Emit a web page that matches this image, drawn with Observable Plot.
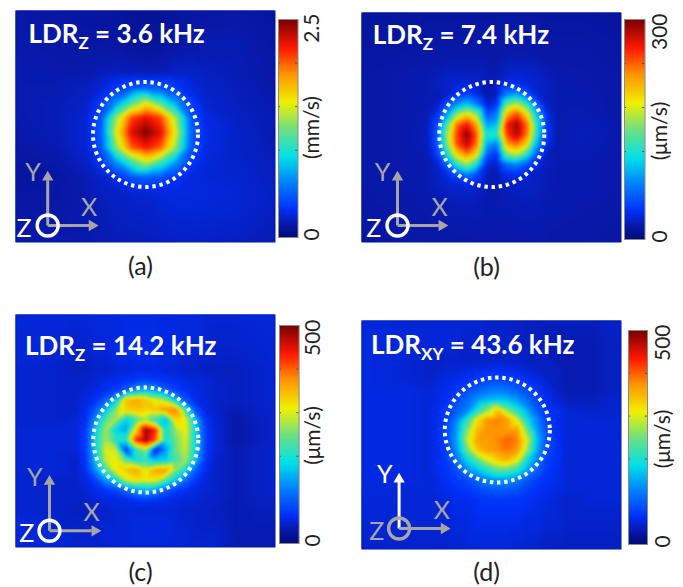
<!DOCTYPE html>
<html>
<head>
<meta charset="utf-8">
<script src="https://cdn.jsdelivr.net/npm/d3@7"></script>
<script src="https://cdn.jsdelivr.net/npm/@observablehq/plot@0.6"></script>
<style>
  html,body{margin:0;padding:0;background:#fff}
  #fig{position:relative;width:683px;height:587px;overflow:hidden;font-family:Lato,sans-serif}
  #fig svg{position:absolute;background:transparent;overflow:visible}
</style>
</head>
<body>
<div id="fig"></div>
<script>
// Colour map (fractions of full scale)
const jetStops = [0, 0.06, 0.13, 0.25, 0.37, 0.5, 0.62, 0.75, 0.87, 1];
const jetColors = ["#000a78","#0818a8","#0030f8","#0080ff","#00e0e8","#70e080","#f0f000","#ff9400","#ff1800","#780000"];

// Panel A: velocity magnitude, mm/s. Node offsets in image units from the spot centre
const aXs = [-140,-90,-60,-45,-30,-15,0,15,30,45,60,90,140];
const aYs = [-130,-90,-60,-45,-30,-15,0,15,30,45,60,80,120];
const aVals = [
 [.15,.13,.12,.12,.11,.10,.09,.10,.11,.12,.13,.14,.12],
 [.16,.15,.14,.14,.13,.11,.10,.11,.13,.15,.17,.17,.13],
 [.17,.16,.16,.18,.20,.19,.18,.19,.21,.22,.20,.18,.14],
 [.17,.17,.20,.24,.34,.44,.50,.45,.36,.26,.22,.19,.14],
 [.17,.18,.22,.36,.68,1.10,1.50,1.12,.70,.38,.24,.20,.15],
 [.16,.18,.24,.46,1.32,2.05,2.25,2.05,1.35,.48,.27,.21,.16],
 [.15,.18,.24,.50,1.50,2.25,2.48,2.25,1.50,.52,.29,.22,.16],
 [.14,.17,.24,.47,1.30,2.00,2.20,2.00,1.32,.48,.28,.22,.17],
 [.13,.15,.21,.34,.68,1.08,1.45,1.10,.70,.36,.26,.23,.18],
 [.12,.13,.18,.22,.30,.44,.50,.45,.34,.27,.25,.24,.19],
 [.13,.14,.17,.20,.22,.24,.25,.26,.27,.27,.26,.25,.20],
 [.14,.15,.17,.18,.20,.21,.22,.24,.25,.25,.25,.24,.19],
 [.15,.16,.16,.17,.18,.18,.18,.19,.20,.21,.20,.19,.17]
];

// Panel B: µm/s
const bXs = [-140,-90,-65,-55,-45,-35,-25,-15,-5,5,15,25,35,45,55,65,90,140];
const bYs = [-130,-80,-60,-50,-40,-30,-20,-10,0,10,20,30,40,50,60,75,120];
const bVals = [
 [14,14,15,15,15,15,15,15,15,15,15,15,15,15,15,15,15,15],
 [16,17,18,18,18,18,18,18,18,18,19,19,19,19,18,18,18,16],
 [17,19,20,22,24,24,24,24,22,20,26,30,28,26,22,20,19,17],
 [17,19,20,24,28,30,30,28,20,24,36,36,32,28,24,20,19,17],
 [17,19,21,21,24,40,50,35,18,24,75,90,60,30,24,20,20,17],
 [17,19,20,24,55,85,105,75,26,40,150,175,135,62,25,20,20,17],
 [17,19,21,36,85,160,195,160,55,70,215,250,195,105,38,20,21,17],
 [17,19,22,48,135,235,265,215,85,100,262,290,240,125,42,20,22,18],
 [17,19,22,55,160,250,295,240,120,125,250,285,235,120,42,20,23,18],
 [17,19,22,52,150,245,280,232,90,70,215,235,195,90,36,20,22,18],
 [17,19,21,42,115,195,230,190,60,38,150,170,125,55,24,20,21,18],
 [17,19,20,27,62,125,160,115,35,24,65,75,55,35,24,20,20,18],
 [17,19,20,24,35,55,75,50,22,20,35,38,30,24,22,20,20,18],
 [17,19,20,24,28,30,32,28,20,20,24,26,26,24,22,20,20,18],
 [17,18,20,22,24,25,26,24,20,20,22,23,24,23,21,20,20,18],
 [16,18,19,20,20,21,21,21,20,20,20,21,21,21,20,20,19,17],
 [15,16,17,17,17,17,17,18,18,18,18,18,18,18,18,17,17,16]
];

// Panel C: µm/s
const cXs = [-140,-90,-70,-60,-50,-40,-30,-20,-10,0,10,20,30,40,50,60,70,90,140];
const cYs = [-130,-90,-70,-60,-50,-40,-30,-20,-10,0,10,20,30,40,50,60,70,90,120];
const cVals = [
 [55,50,50,55,55,55,55,55,55,55,55,55,55,55,55,50,50,50,50],
 [50,50,45,45,50,50,55,60,60,60,60,55,55,50,50,50,45,45,50],
 [50,45,40,40,45,45,50,50,55,55,55,50,50,45,45,40,40,40,50],
 [50,45,45,45,50,55,60,65,70,75,70,65,60,55,50,50,45,40,50],
 [50,45,45,50,55,65,75,100,140,160,140,100,75,65,55,50,45,40,50],
 [50,45,45,55,65,100,170,340,360,340,300,270,170,90,60,50,45,40,50],
 [50,45,45,60,100,165,260,330,340,330,340,370,380,220,90,55,45,35,50],
 [50,45,50,65,140,240,275,175,225,275,210,165,330,300,160,65,50,30,50],
 [50,50,50,75,175,275,180,150,325,485,425,190,275,310,180,70,50,30,50],
 [50,50,50,75,185,275,210,210,425,480,400,200,250,300,185,75,50,30,50],
 [50,50,50,75,180,300,290,75,210,275,50,140,250,290,180,70,50,35,50],
 [50,50,45,70,170,290,310,240,200,210,165,175,225,275,160,65,45,35,50],
 [50,50,45,65,140,225,310,340,360,310,360,370,260,190,100,60,45,35,50],
 [50,45,45,55,80,140,190,290,320,310,310,240,170,110,70,50,45,35,50],
 [50,45,45,50,60,70,80,110,140,160,140,100,75,65,55,50,45,35,50],
 [50,45,45,45,50,55,55,60,65,70,65,60,55,50,50,45,45,35,45],
 [50,45,40,40,45,45,50,50,50,50,50,50,50,45,45,45,40,35,40],
 [50,50,45,45,45,50,50,50,55,55,55,55,50,50,45,45,45,35,35],
 [50,50,50,50,50,50,50,50,50,50,50,50,50,50,50,50,45,35,35]
];

// Panel D: µm/s
const dXs = [-145,-95,-70,-60,-50,-40,-30,-20,-10,0,10,20,30,40,50,60,70,95,130];
const dYs = [-115,-85,-70,-60,-50,-40,-30,-20,-10,0,10,20,30,40,50,60,70,90,125];
const dVals = [
 [50,50,50,50,50,50,50,50,45,45,45,45,40,40,40,40,40,40,45],
 [55,50,50,50,50,50,45,45,45,45,45,40,40,40,35,35,35,35,45],
 [55,50,45,45,45,45,45,45,45,45,45,45,40,40,40,35,35,35,45],
 [55,50,45,45,50,50,55,55,60,60,60,55,50,45,40,40,35,35,45],
 [55,50,45,50,55,60,65,75,80,85,80,75,65,55,45,40,35,35,45],
 [55,55,50,55,60,70,85,100,115,120,115,100,85,70,55,40,35,35,45],
 [55,55,50,55,65,85,110,140,160,170,165,140,110,80,60,50,40,40,50],
 [55,55,50,60,75,100,125,200,260,340,260,200,150,95,70,60,50,45,50],
 [55,55,50,60,80,130,210,320,375,385,370,300,190,125,75,60,50,50,50],
 [55,55,50,60,85,145,260,350,375,375,370,365,250,140,80,60,50,50,50],
 [55,55,50,60,85,155,290,365,370,380,400,385,300,160,85,65,50,50,50],
 [55,55,50,60,80,145,250,340,365,375,390,370,270,150,80,65,50,50,50],
 [55,55,50,60,75,120,180,240,300,335,350,310,190,125,75,65,50,50,50],
 [55,55,50,60,70,90,135,165,200,240,240,210,150,100,70,60,50,50,50],
 [55,55,50,55,65,75,85,105,125,140,140,120,95,75,65,60,50,50,50],
 [55,50,50,55,60,65,70,80,90,95,95,90,75,65,60,55,50,50,50],
 [50,50,50,50,55,60,60,65,70,70,70,70,65,60,55,50,45,50,50],
 [50,50,50,50,50,55,55,60,60,60,60,60,55,55,50,50,45,45,45],
 [45,45,45,45,45,45,50,50,50,50,50,45,45,45,40,40,40,40,40]
];

// Titles (text, subscript, remainder), units, bar labels, captions
const titleMain = ["LDR","LDR","LDR","LDR"];
const titleSubs = ["Z","Z","Z","XY"];
const titleRest = [" = 3.6 kHz"," = 7.4 kHz"," = 14.2 kHz"," = 43.6 kHz"];
const barMax = [2.5,300,500,500];
const barMaxLabels = ["2.5","300","500","500"];
const barUnits = ["(mm/s)","(μm/s)","(μm/s)","(μm/s)"];
const barTicks = [[.5,1,1.5,2],[60,120,180,240],[100,200,300,400],[100,200,300,400]];
const captions = ["(a)","(b)","(c)","(d)"];

const grey = "#a6a6a6";
// layout of the figure
const layouts = [
 {vals:aVals,xs:aXs,ys:aYs,l:14.5,t:10,w:260,h:232,cx:130.5,cy:122,ccx:130,ccy:124,blur:1.6,
  bar:{l:277.5,t:19,w:19.5,h:218,lab:311,unitY:127},tx:13,ty:32,
  o:[32.2,215],yTop:161.7,xEnd:81.5,Y:[17.5,162],X:[73.5,197],Z:[8.5,218],capY:256},
 {vals:bVals,xs:bXs,ys:bYs,l:360.7,t:12,w:260,h:230,cx:130.3,cy:122,ccx:130.3,ccy:122,blur:1.4,
  bar:{l:624,t:19,w:20.5,h:220,lab:660,unitY:130.5},tx:11.3,ty:31,
  o:[36,213],yTop:159.7,xEnd:85.3,Y:[21,160],X:[78,195],Z:[12.3,216],capY:255},
 {vals:cVals,xs:cXs,ys:cYs,l:14.7,t:314,w:260,h:233,cx:130.3,cy:125.5,ccx:130.3,ccy:125.5,blur:1,
  bar:{l:278.7,t:325,w:19.6,h:218,lab:312.5,unitY:435},tx:9.5,ty:40,
  o:[34,216.3],yTop:162,xEnd:84.3,Y:[19.3,163],X:[76,198.7],Z:[11.3,219.7],capY:258},
 {vals:dVals,xs:dXs,ys:dYs,l:360.7,t:320,w:260,h:229,cx:135.8,cy:109.5,ccx:135.8,ccy:109.5,blur:1.2,
  bar:{l:627.7,t:330,w:19,h:214,lab:662.5,unitY:438.5},tx:9.5,ty:33,
  o:[37.6,208],yTop:153.7,xEnd:87.6,Y:[23.3,154.7],X:[80.3,190],Z:[15.3,211.3],capY:252}
];

const colorFor = max => ({type:"linear",domain:jetStops.map(s=>s*max),range:jetColors,clamp:true,interpolate:"rgb"});
const fig = document.getElementById("fig");

layouts.forEach((p,i)=>{
  const samples = [];
  p.ys.forEach((dy,r)=>p.xs.forEach((dx,c)=>samples.push({x:p.cx+dx,y:p.cy+dy,v:p.vals[r][c]})));
  const capMargin = 40;
  const axisColors = i===3 ? {y:"#fff",x:grey,ring:grey,Y:"#fff",X:grey,Z:grey}
                           : {y:grey,x:grey,ring:"#fff",Y:grey,X:grey,Z:"#fff"};
  const [ox,oy] = p.o;
  const titleText = titleMain[i]+titleSubs[i]+titleRest[i];
  const plot = Plot.plot({
    width:p.w, height:p.h+capMargin,
    marginLeft:0,marginRight:0,marginTop:0,marginBottom:capMargin,
    style:{background:"transparent",fontFamily:"Lato, sans-serif"},
    x:{domain:[0,p.w],axis:null},
    y:{domain:[p.h,0],axis:null},
    color:colorFor(barMax[i]),
    marks:[
      Plot.frame({fill:"#0216a0",stroke:"none"}),
      Plot.raster(samples,{x:"x",y:"y",fill:"v",interpolate:"barycentric",pixelSize:1,imageFilter:`blur(${p.blur}px)`,clip:"frame"}),
      Plot.dot([{x:p.ccx,y:p.ccy}],{x:"x",y:"y",r:52.5,fill:"none",stroke:"#fff",strokeWidth:4,strokeDasharray:"3.4 3.8"}),
      Plot.link([{x1:ox,y1:oy,x2:ox,y2:p.yTop+8}],{x1:"x1",y1:"y1",x2:"x2",y2:"y2",stroke:axisColors.y,strokeWidth:3}),
      Plot.link([{x1:ox,y1:oy,x2:p.xEnd-8,y2:oy}],{x1:"x1",y1:"y1",x2:"x2",y2:"y2",stroke:axisColors.x,strokeWidth:3}),
      Plot.dot([{x:ox,y:p.yTop+5}],{x:"x",y:"y",symbol:"triangle2",r:5.4,fill:axisColors.y,stroke:"none"}),
      Plot.dot([{x:p.xEnd-5,y:oy}],{x:"x",y:"y",symbol:"triangle2",r:5.4,rotate:90,fill:axisColors.x,stroke:"none"}),
      Plot.dot([{x:ox,y:oy}],{x:"x",y:"y",r:10.5,fill:"none",stroke:axisColors.ring,strokeWidth:3.4}),
      Plot.text(["Y"],{x:p.Y[0],y:p.Y[1],text:d=>d,fill:axisColors.Y,fontSize:25,textAnchor:"middle"}),
      Plot.text(["X"],{x:p.X[0],y:p.X[1],text:d=>d,fill:axisColors.X,fontSize:25,textAnchor:"middle"}),
      Plot.text(["Z"],{x:p.Z[0],y:p.Z[1],text:d=>d,fill:axisColors.Z,fontSize:25,textAnchor:"middle"}),
      Plot.text([titleText],{x:p.tx,y:p.ty-8,text:d=>d,fill:"#fff",fontSize:26,fontWeight:700,textAnchor:"start"}),
      Plot.text([captions[i]],{x:p.w/2-5,y:p.capY,text:d=>d,fill:"#222",fontSize:25,textAnchor:"middle"})
    ]
  });
  plot.style.left = p.l+"px"; plot.style.top = p.t+"px";
  fig.appendChild(plot);

  // subscript in the panel title
  const t = Array.from(plot.querySelectorAll("text")).find(e=>e.textContent===titleText);
  t.textContent = "";
  const ns = "http://www.w3.org/2000/svg";
  [[titleMain[i],null,null],[titleSubs[i],17,6],[titleRest[i],null,-6]].forEach(([s,fs,dy])=>{
    const ts = document.createElementNS(ns,"tspan");
    ts.textContent = s;
    ts.style.whiteSpace = "pre";
    if (fs) ts.setAttribute("font-size",fs);
    if (dy) ts.setAttribute("dy",dy);
    t.appendChild(ts);
  });

  // colour bar
  const b = p.bar, max = barMax[i];
  const right = b.lab - b.l + 12;
  const top = 8;
  const bar = Plot.plot({
    width:right, height:b.h+top+8,
    marginLeft:0,marginRight:right-b.w,marginTop:top,marginBottom:8,
    style:{background:"transparent",fontFamily:"Lato, sans-serif"},
    x:{domain:[0,1],axis:null},
    y:{domain:[0,max],axis:null},
    color:colorFor(max),
    marks:[
      Plot.raster({fill:(x,y)=>y,x1:0,x2:1,y1:0,y2:max,pixelSize:1}),
      Plot.ruleY(barTicks[i],{x1:0.88,x2:1,stroke:"#555",strokeWidth:1}),
      Plot.ruleY(barTicks[i],{x1:0,x2:0.1,stroke:"#555",strokeWidth:1}),
      Plot.frame({stroke:"#8a8a8a",strokeWidth:1}),
      Plot.text(["0"],{x:1,y:0,text:d=>d,dx:b.lab-b.l-b.w,dy:3,rotate:-90,textAnchor:"start",fontSize:21,fill:"#222"}),
      Plot.text([barMaxLabels[i]],{x:1,y:max,text:d=>d,dx:b.lab-b.l-b.w,dy:-6,rotate:-90,textAnchor:"end",fontSize:21,fill:"#222"}),
      Plot.text([barUnits[i]],{x:1,y:max*(1-(b.unitY-b.t)/b.h),text:d=>d,dx:b.lab-b.l-b.w,rotate:-90,textAnchor:"middle",fontSize:21,fill:"#222"})
    ]
  });
  bar.style.left = b.l+"px"; bar.style.top = (b.t-top)+"px";
  fig.appendChild(bar);
});
</script>
</body>
</html>
